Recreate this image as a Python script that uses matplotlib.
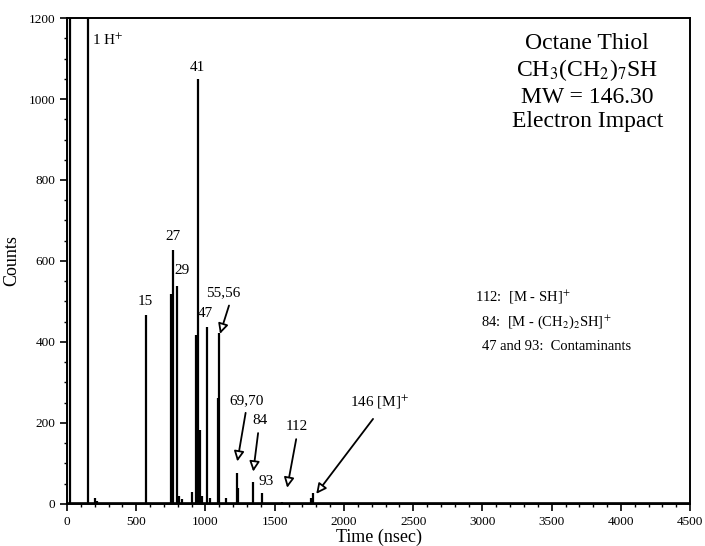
import matplotlib
matplotlib.use("Agg")
import matplotlib.pyplot as plt
from matplotlib.patches import FancyArrowPatch
from matplotlib.ticker import MultipleLocator

plt.rcParams['font.family'] = ['Liberation Serif', 'DejaVu Serif']
plt.rcParams['mathtext.fontset'] = 'stix'

# flight time (nsec) and counts of each peak in the spectrum
times = [25, 152, 200, 215, 568, 753, 768, 796, 810, 830, 905, 931, 944, 960, 975,
         1008, 1035, 1092, 1100, 1150, 1225, 1232, 1341, 1410, 1550, 1765, 1774]
counts = [5000, 5000, 15, 8, 467, 518, 627, 538, 20, 12, 30, 417, 1049, 183, 20,
          437, 15, 262, 422, 15, 76, 40, 55, 27, 6, 15, 27]

# labels over peaks: text, text position (t, counts)
peak_labels = ["1 H$^{+}$", "41", "15", "27", "29", "47", "93"]
peak_label_pos = [(295, 1125), (944, 1062), (568, 485), (768, 645), (830, 560), (1000, 455), (1440, 40)]

# arrowed labels: text, text position, arrow tail, arrow head
arrow_labels = ["55,56", "69,70", "84", "112", "146 [M]$^{+}$"]
arrow_text_pos = [(1130, 505), (1300, 240), (1395, 190), (1660, 175), (2260, 230)]
arrow_tail = [(1170, 490), (1290, 225), (1380, 175), (1655, 160), (2210, 210)]
arrow_head = [(1105, 420), (1230, 105), (1345, 80), (1590, 40), (1800, 25)]

fig = plt.figure(figsize=(7.05, 5.46), dpi=100)
ax = fig.add_axes([0.095, 0.077, 0.884, 0.89])

ax.vlines(times, 0, counts, color='black', lw=1.6)
ax.axhline(2, color='black', lw=1.2)

for txt, (x, y) in zip(peak_labels, peak_label_pos):
    ax.text(x, y, txt, ha='center', va='bottom', fontsize=11)

for txt, tp, tail, head in zip(arrow_labels, arrow_text_pos, arrow_tail, arrow_head):
    ax.text(tp[0], tp[1], txt, ha='center', va='bottom', fontsize=11)
    ax.add_patch(FancyArrowPatch(tail, head, arrowstyle='-|>', mutation_scale=15,
                                 fc='white', ec='black', lw=1.3, shrinkA=0, shrinkB=0))

ax.text(0.835, 0.97, "Octane Thiol\nCH$_3$(CH$_2$)$_7$SH\nMW = 146.30\nElectron Impact",
        transform=ax.transAxes, ha='center', va='top', fontsize=17, linespacing=1.2)

ax.text(2946, 509, "112:  [M - SH]$^{+}$", fontsize=10.5, va='center')
ax.text(2990, 449, "84:  [M - (CH$_2$)$_2$SH]$^{+}$", fontsize=10.5, va='center')
ax.text(2996, 390, "47 and 93:  Contaminants", fontsize=10.5, va='center')

ax.set_xlim(0, 4500)
ax.set_ylim(0, 1200)
ax.xaxis.set_major_locator(MultipleLocator(500))
ax.xaxis.set_minor_locator(MultipleLocator(100))
ax.yaxis.set_major_locator(MultipleLocator(200))
ax.yaxis.set_minor_locator(MultipleLocator(50))
ax.tick_params(which='major', length=5, width=1.2, labelsize=9.5)
ax.tick_params(which='minor', length=2.5, width=1)
for s in ax.spines.values():
    s.set_linewidth(1.4)

ax.set_xlabel("Time (nsec)", fontsize=13, labelpad=1)
ax.set_ylabel("Counts", fontsize=13, labelpad=6)

fig.savefig("out.png", dpi=100)
